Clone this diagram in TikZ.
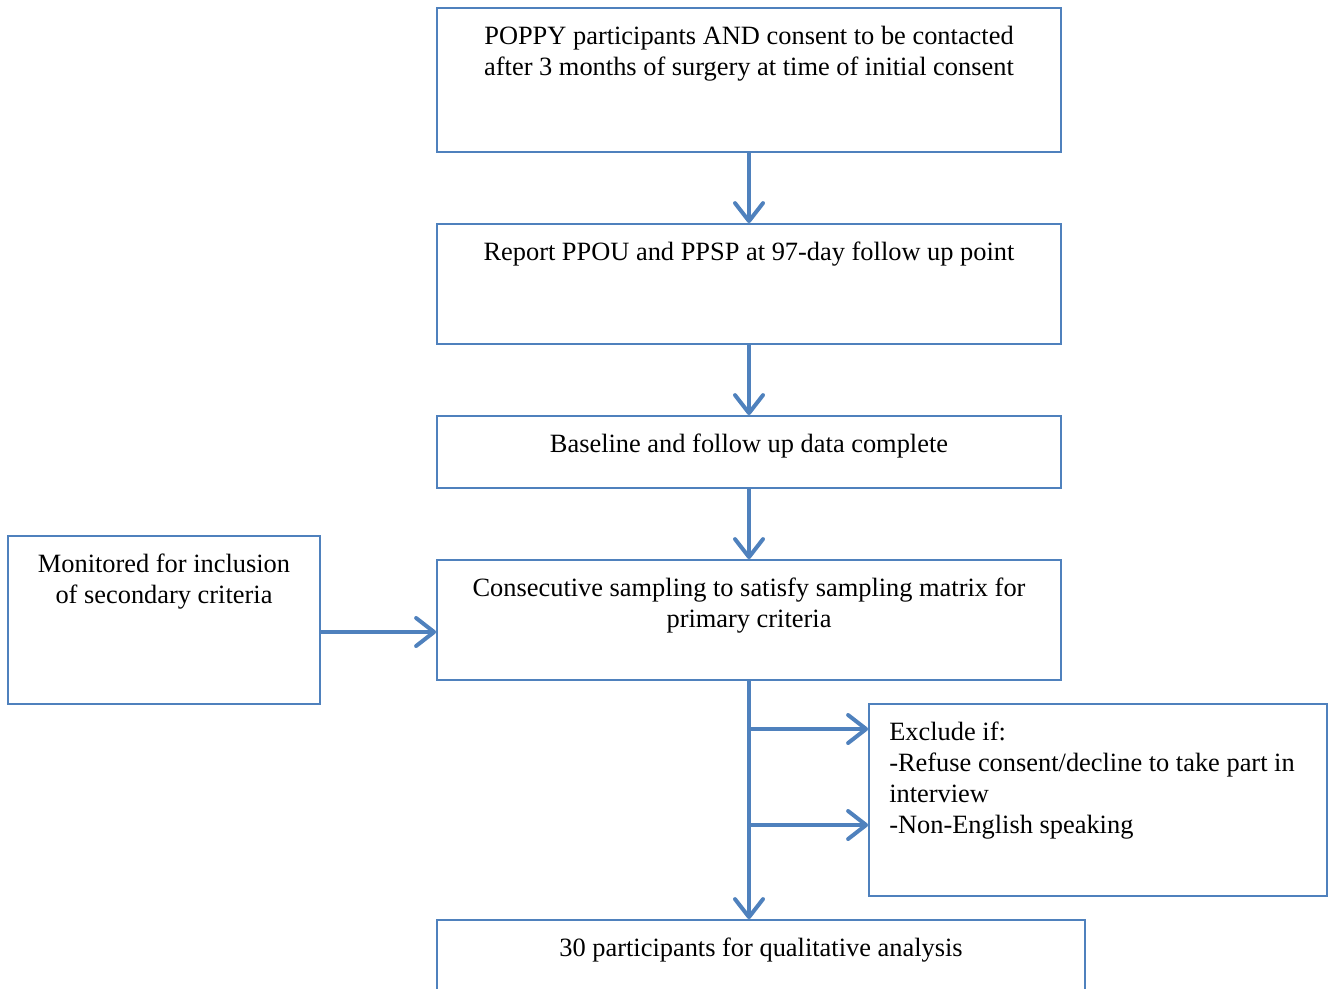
\documentclass[tikz,border=0pt]{standalone}
\usepackage{fontspec}
\setmainfont{Liberation Serif}
\usetikzlibrary{arrows.meta}
\definecolor{flowblue}{HTML}{4F81BD}
\tikzset{
  box/.style={draw=flowblue, line width=1.8pt, inner sep=0pt, minimum width=624},
  txt/.style={anchor=north, yshift=-19pt, inner sep=0pt, align=center},
  flow/.style={draw=flowblue, line width=4pt,
    -{Straight Barb[length=18pt, width=28pt, round]}}
}
\begin{document}
\begin{tikzpicture}[x=1pt, y=-1pt, font=\fontsize{26.4}{31}\selectfont]
  \useasboundingbox (0,0) rectangle (1328,988);
  % main column
  \foreach \y/\h/\t [count=\i] in {
      80/144/{POPPY participants AND consent to be contacted\\after 3 months of surgery at time of initial consent},
      284/120/{Report PPOU and PPSP at 97-day follow up point},
      452/72/{Baseline and follow up data complete},
      620/120/{Consecutive sampling to satisfy sampling matrix for\\primary criteria}}
    \node [box, minimum height=\h, label={[txt]north:\t}] (step-\i) at (749,\y) {};
  \node [box, minimum width=648, minimum height=120,
    label={[txt]north:30 participants for qualitative analysis}] (final) at (761,980) {};
  % side boxes
  \node [box, minimum width=312, minimum height=168,
    label={[txt]north:Monitored for inclusion\\of secondary criteria}] (monitor) at (164,620) {};
  \node [box, minimum width=458, minimum height=192,
    label={[txt, anchor=north west, xshift=21pt, align=left]north west:Exclude if:\\-Refuse consent/decline to take part in\\interview\\-Non-English speaking}] (exclude) at (1098,800) {};
  % connectors
  \foreach \i [evaluate=\i as \j using int(\i+1)] in {1,2,3}
    \draw [flow] (step-\i) -- (step-\j);
  \coordinate (trunk-end) at (step-4.south |- final.north);
  \draw [flow] (step-4) -- (trunk-end);
  \coordinate (monitor-out) at ([yshift=-12pt]monitor.east);
  \draw [flow] (monitor-out) -- (monitor-out -| step-4.west);
  \foreach \y [count=\i] in {729,825} {
    \coordinate (branch-\i) at (749,\y);
    \draw [flow] (branch-\i) -- (branch-\i -| exclude.west);
  }
\end{tikzpicture}
\end{document}
